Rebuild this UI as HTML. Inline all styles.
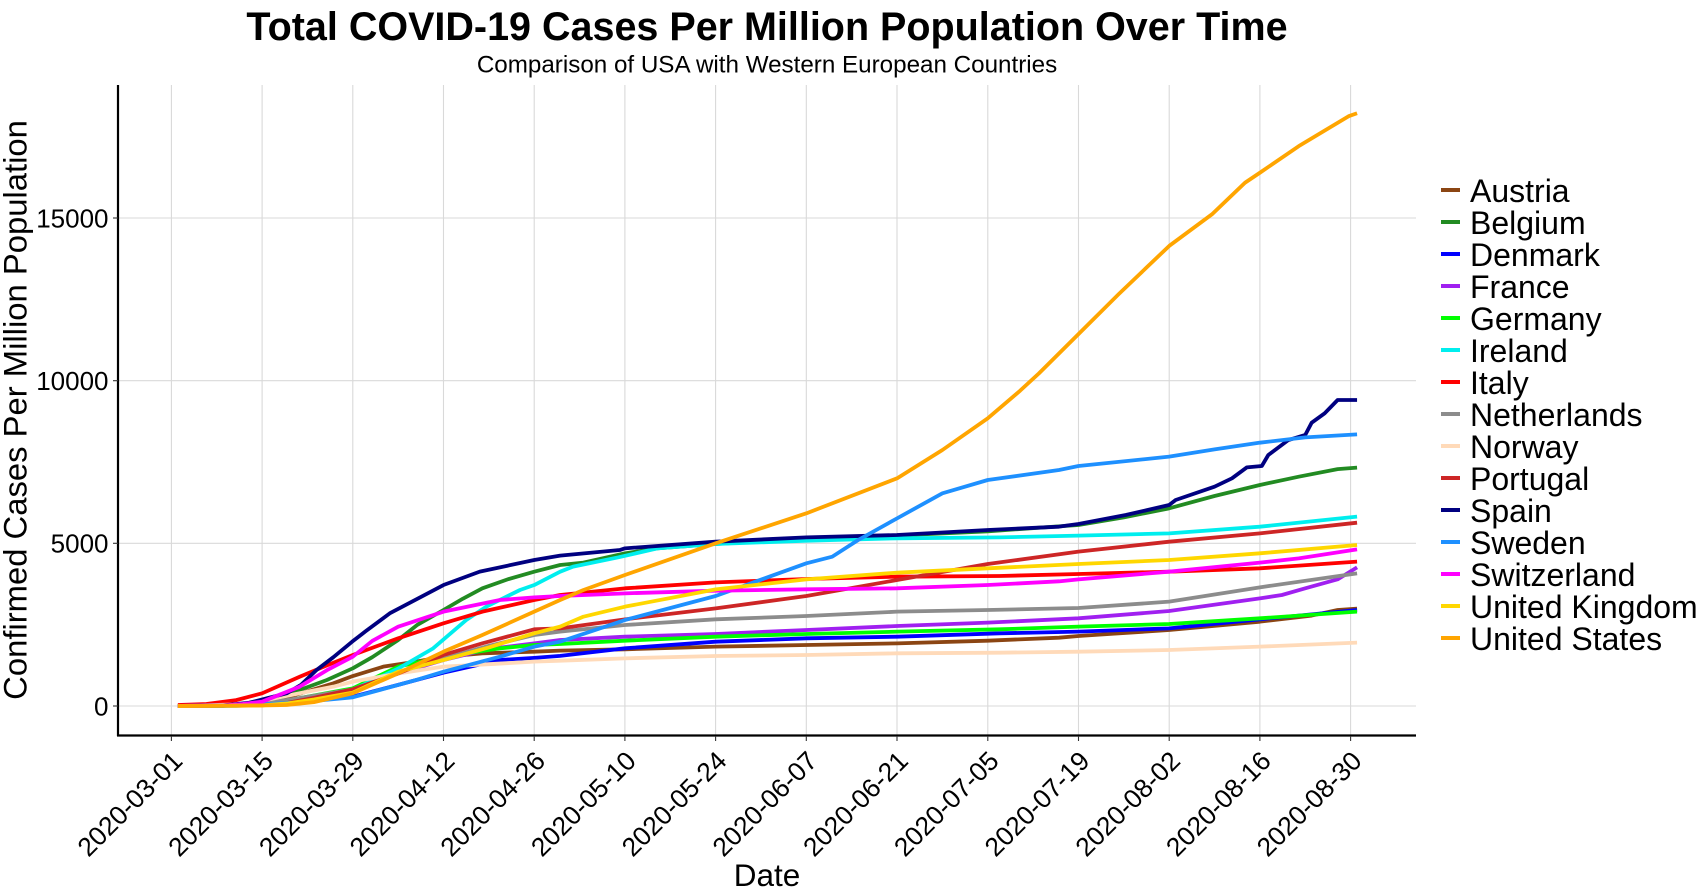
<!DOCTYPE html>
<html>
<head>
<meta charset="utf-8">
<style>
  html,body{margin:0;padding:0;background:#fff;}
  svg{display:block;}
  text{font-family:"Liberation Sans",Arial,sans-serif;fill:#000;}
</style>
</head>
<body>
<svg width="1704" height="895" viewBox="0 0 1704 895" xmlns="http://www.w3.org/2000/svg">
  <rect x="0" y="0" width="1704" height="895" fill="#fff"/>

  <!-- Titles -->
  <text x="767" y="40" font-size="39.5" font-weight="bold" text-anchor="middle">Total COVID-19 Cases Per Million Population Over Time</text>
  <text x="767" y="72.5" font-size="24.2" text-anchor="middle">Comparison of USA with Western European Countries</text>

  <!-- Grid -->
  <g stroke="#D9D9D9" stroke-width="1.1">
    <line x1="118" y1="706" x2="1416" y2="706"/>
    <line x1="118" y1="543.3" x2="1416" y2="543.3"/>
    <line x1="118" y1="380.7" x2="1416" y2="380.7"/>
    <line x1="118" y1="218" x2="1416" y2="218"/>
    <line x1="171.4" y1="85" x2="171.4" y2="735"/>
    <line x1="262.1" y1="85" x2="262.1" y2="735"/>
    <line x1="352.8" y1="85" x2="352.8" y2="735"/>
    <line x1="443.5" y1="85" x2="443.5" y2="735"/>
    <line x1="534.2" y1="85" x2="534.2" y2="735"/>
    <line x1="624.9" y1="85" x2="624.9" y2="735"/>
    <line x1="715.6" y1="85" x2="715.6" y2="735"/>
    <line x1="806.3" y1="85" x2="806.3" y2="735"/>
    <line x1="897.0" y1="85" x2="897.0" y2="735"/>
    <line x1="987.8" y1="85" x2="987.8" y2="735"/>
    <line x1="1078.5" y1="85" x2="1078.5" y2="735"/>
    <line x1="1169.2" y1="85" x2="1169.2" y2="735"/>
    <line x1="1259.9" y1="85" x2="1259.9" y2="735"/>
    <line x1="1350.6" y1="85" x2="1350.6" y2="735"/>
  </g>

  <!-- Series -->
  <g transform="matrix(6.479,0,0,-0.032533,171.4,706)" fill="none" stroke-width="3.8" stroke-linejoin="round">
    <!-- Austria -->
    <polyline vector-effect="non-scaling-stroke" stroke="#8B4513" points="1,2 8,10 12,60 15,120 18,280 20,390 25,697 28,922 32.7,1209 37.8,1363 42,1516 48,1619 56,1670 60,1701 70,1742 84,1824 98,1875 112,1926 126,2008 137,2100 140,2152 154,2336 168,2592 176,2780 180,2950 183,2992"/>
    <!-- Belgium -->
    <polyline vector-effect="non-scaling-stroke" stroke="#228B22" points="1,1 8,10 12,50 15,130 18,330 19.8,492 24,800 28,1158 31,1500 35,2029 38,2500 42,2951 45,3300 48,3617 52,3900 56,4129 60,4334 63.6,4406 70,4693 75,4846 84,4980 98,5140 112,5240 126,5370 140,5564 147,5799 154,6076 161,6455 168,6793 174,7049 180,7280 183,7326"/>
    <!-- Denmark -->
    <polyline vector-effect="non-scaling-stroke" stroke="#0000FF" points="1,1 8,5 12,50 15,130 20,200 28,287 35,650 42,1025 50.7,1414 56,1480 60,1540 70,1773 84,1977 98,2080 112,2131 127.8,2234 140,2285 154,2387 168,2664 183,2951"/>
    <!-- France -->
    <polyline vector-effect="non-scaling-stroke" stroke="#A020F0" points="1,2 10,20 15,70 20,200 28,492 35,1000 42,1414 49,1750 56,1926 60,2029 70,2131 84,2213 98,2336 112,2459 126,2562 140,2695 154,2920 168,3309 171.4,3412 175,3617 180,3893 183,4262"/>
    <!-- Germany -->
    <polyline vector-effect="non-scaling-stroke" stroke="#00FF00" points="1,1 10,15 15,70 20,250 28,543 35,1209 42,1516 50.7,1773 56,1875 60,1906 70,2008 84,2131 98,2213 112,2285 127.8,2357 140,2439 154,2520 168,2695 183,2900"/>
    <!-- Ireland -->
    <polyline vector-effect="non-scaling-stroke" stroke="#00EEEE" points="1,0 10,5 15,50 20,150 28,500 35,1150 40.4,1772 45.5,2643 48.6,3053 53.8,3566 56,3719 60,4129 62,4283 69,4570 75,4846 84,4980 98,5082 112,5154 127.8,5184 140,5236 154,5307 168,5512 183,5820"/>
    <!-- Italy -->
    <polyline vector-effect="non-scaling-stroke" stroke="#FF0000" points="1,30 5.4,60 10,180 14,390 19.8,900 24,1250 28,1568 35,2080 42,2541 48,2900 56,3258 60,3412 70,3617 84,3801 98,3904 112,3975 127.8,3996 140,4057 154,4129 168,4232 183,4437"/>
    <!-- Netherlands -->
    <polyline vector-effect="non-scaling-stroke" stroke="#8C8C8C" points="1,1 10,20 15,100 20,250 28,512 35,1000 42,1465 49,1850 56,2182 60,2285 70,2490 84,2664 98,2766 112,2900 126,2951 140,3012 154,3207 168,3648 183,4078"/>
    <!-- Norway -->
    <polyline vector-effect="non-scaling-stroke" stroke="#FFDAB9" points="1,1 10,50 15,200 20,400 25,594 28,748 35,1000 42,1209 56,1363 60,1393 70,1465 84,1537 98,1568 112,1619 127.8,1639 140,1670 154,1721 168,1824 183,1947"/>
    <!-- Portugal -->
    <polyline vector-effect="non-scaling-stroke" stroke="#CD2626" points="1,0 14,20 18,100 22,250 28,512 35,1000 42,1568 48,1926 56,2357 60,2387 70,2664 84,3002 98,3381 112,3873 126,4365 140,4744 154,5051 168,5307 183,5635"/>
    <!-- Spain -->
    <polyline vector-effect="non-scaling-stroke" stroke="#000080" points="1,2 8,20 12,100 15,250 17.8,390 20,650 22.4,1107 25,1500 27.9,1977 30,2300 33.7,2848 38,3300 42,3719 47.6,4130 56,4488 60,4621 69.2,4795 70,4846 84,5051 98,5184 112,5256 126,5410 137,5512 140,5594 147.3,5871 154,6178 155,6332 161,6742 163.7,6998 166,7336 168.3,7377 169.3,7715 172.4,8176 175,8330 176,8709 178,8996 180,9406 183,9406"/>
    <!-- Sweden -->
    <polyline vector-effect="non-scaling-stroke" stroke="#1E90FF" points="1,1 10,20 15,60 20,120 28,266 37.8,800 42,1055 50.7,1516 56,1824 60,1977 70,2643 84,3381 98,4385 102,4590 106,5103 112,5768 119,6537 126,6947 137,7254 140,7377 154,7664 161,7889 168,8094 175,8258 183,8350"/>
    <!-- Switzerland -->
    <polyline vector-effect="non-scaling-stroke" stroke="#FF00FF" points="1,2 8,15 11,60 14,133 19.8,594 24,1100 28,1516 31,2000 35,2439 42,2900 50.7,3258 56,3340 60,3381 70,3463 84,3545 98,3586 112,3617 126,3719 137,3832 140,3893 154,4129 168,4406 174,4539 183,4816"/>
    <!-- United Kingdom -->
    <polyline vector-effect="non-scaling-stroke" stroke="#FFD700" points="1,0 14,20 18,80 22,200 28,410 35,1055 42,1414 49,1800 56,2234 60,2439 63.6,2746 70,3053 84,3586 98,3893 112,4098 126,4232 140,4365 154,4488 168,4693 183,4949"/>
    <!-- United States -->
    <polyline vector-effect="non-scaling-stroke" stroke="#FFA500" points="1,0 10,5 17.8,31 22,120 28,390 35,1004 42,1670 48,2182 56,2900 60,3258 63.6,3566 70,4027 84,5000 98,5922 112,6998 119,7869 126,8842 131,9693 133.9,10225 140,11431 146.2,12659 154,14141 160.6,15113 165.7,16084 168,16391 174,17209 181.7,18129 183,18220"/>
  </g>

  <!-- Axes -->
  <g stroke="#000" stroke-width="2.2">
    <line x1="118" y1="85" x2="118" y2="736"/>
    <line x1="117" y1="735.5" x2="1416" y2="735.5"/>
  </g>
  <g stroke="#333" stroke-width="1.1">
    <line x1="113" y1="706" x2="118" y2="706"/>
    <line x1="113" y1="543.3" x2="118" y2="543.3"/>
    <line x1="113" y1="380.7" x2="118" y2="380.7"/>
    <line x1="113" y1="218" x2="118" y2="218"/>
    <line x1="171.4" y1="736" x2="171.4" y2="741"/>
    <line x1="262.1" y1="736" x2="262.1" y2="741"/>
    <line x1="352.8" y1="736" x2="352.8" y2="741"/>
    <line x1="443.5" y1="736" x2="443.5" y2="741"/>
    <line x1="534.2" y1="736" x2="534.2" y2="741"/>
    <line x1="624.9" y1="736" x2="624.9" y2="741"/>
    <line x1="715.6" y1="736" x2="715.6" y2="741"/>
    <line x1="806.3" y1="736" x2="806.3" y2="741"/>
    <line x1="897.0" y1="736" x2="897.0" y2="741"/>
    <line x1="987.8" y1="736" x2="987.8" y2="741"/>
    <line x1="1078.5" y1="736" x2="1078.5" y2="741"/>
    <line x1="1169.2" y1="736" x2="1169.2" y2="741"/>
    <line x1="1259.9" y1="736" x2="1259.9" y2="741"/>
    <line x1="1350.6" y1="736" x2="1350.6" y2="741"/>
  </g>

  <!-- Y tick labels -->
  <g font-size="26" text-anchor="end">
    <text x="108.5" y="715.3">0</text>
    <text x="108.5" y="552.6">5000</text>
    <text x="108.5" y="390">10000</text>
    <text x="108.5" y="227.3">15000</text>
  </g>

  <!-- X tick labels -->
  <g font-size="26.4" text-anchor="end">
    <text transform="translate(184.0,762.5) rotate(-45)">2020-03-01</text>
    <text transform="translate(274.7,762.5) rotate(-45)">2020-03-15</text>
    <text transform="translate(365.4,762.5) rotate(-45)">2020-03-29</text>
    <text transform="translate(456.1,762.5) rotate(-45)">2020-04-12</text>
    <text transform="translate(546.8,762.5) rotate(-45)">2020-04-26</text>
    <text transform="translate(637.5,762.5) rotate(-45)">2020-05-10</text>
    <text transform="translate(728.2,762.5) rotate(-45)">2020-05-24</text>
    <text transform="translate(818.9,762.5) rotate(-45)">2020-06-07</text>
    <text transform="translate(909.6,762.5) rotate(-45)">2020-06-21</text>
    <text transform="translate(1000.4,762.5) rotate(-45)">2020-07-05</text>
    <text transform="translate(1091.1,762.5) rotate(-45)">2020-07-19</text>
    <text transform="translate(1181.8,762.5) rotate(-45)">2020-08-02</text>
    <text transform="translate(1272.5,762.5) rotate(-45)">2020-08-16</text>
    <text transform="translate(1363.2,762.5) rotate(-45)">2020-08-30</text>
  </g>

  <!-- Axis titles -->
  <text x="767" y="886" font-size="31.5" text-anchor="middle">Date</text>
  <text transform="translate(26.5,410) rotate(-90)" font-size="32.8" text-anchor="middle">Confirmed Cases Per Million Population</text>

  <!-- Legend -->
  <g stroke-width="4">
    <line x1="1441" y1="190" x2="1460" y2="190" stroke="#8B4513"/>
    <line x1="1441" y1="222" x2="1460" y2="222" stroke="#228B22"/>
    <line x1="1441" y1="254" x2="1460" y2="254" stroke="#0000FF"/>
    <line x1="1441" y1="286" x2="1460" y2="286" stroke="#A020F0"/>
    <line x1="1441" y1="318" x2="1460" y2="318" stroke="#00FF00"/>
    <line x1="1441" y1="350" x2="1460" y2="350" stroke="#00EEEE"/>
    <line x1="1441" y1="382" x2="1460" y2="382" stroke="#FF0000"/>
    <line x1="1441" y1="414" x2="1460" y2="414" stroke="#8C8C8C"/>
    <line x1="1441" y1="446" x2="1460" y2="446" stroke="#FFDAB9"/>
    <line x1="1441" y1="478" x2="1460" y2="478" stroke="#CD2626"/>
    <line x1="1441" y1="510" x2="1460" y2="510" stroke="#000080"/>
    <line x1="1441" y1="542" x2="1460" y2="542" stroke="#1E90FF"/>
    <line x1="1441" y1="574" x2="1460" y2="574" stroke="#FF00FF"/>
    <line x1="1441" y1="606" x2="1460" y2="606" stroke="#FFD700"/>
    <line x1="1441" y1="638" x2="1460" y2="638" stroke="#FFA500"/>
  </g>
  <g font-size="32">
    <text x="1470" y="202">Austria</text>
    <text x="1470" y="234">Belgium</text>
    <text x="1470" y="266">Denmark</text>
    <text x="1470" y="298">France</text>
    <text x="1470" y="330">Germany</text>
    <text x="1470" y="362">Ireland</text>
    <text x="1470" y="394">Italy</text>
    <text x="1470" y="426">Netherlands</text>
    <text x="1470" y="458">Norway</text>
    <text x="1470" y="490">Portugal</text>
    <text x="1470" y="522">Spain</text>
    <text x="1470" y="554">Sweden</text>
    <text x="1470" y="586">Switzerland</text>
    <text x="1470" y="618">United Kingdom</text>
    <text x="1470" y="650">United States</text>
  </g>
</svg>
</body>
</html>
